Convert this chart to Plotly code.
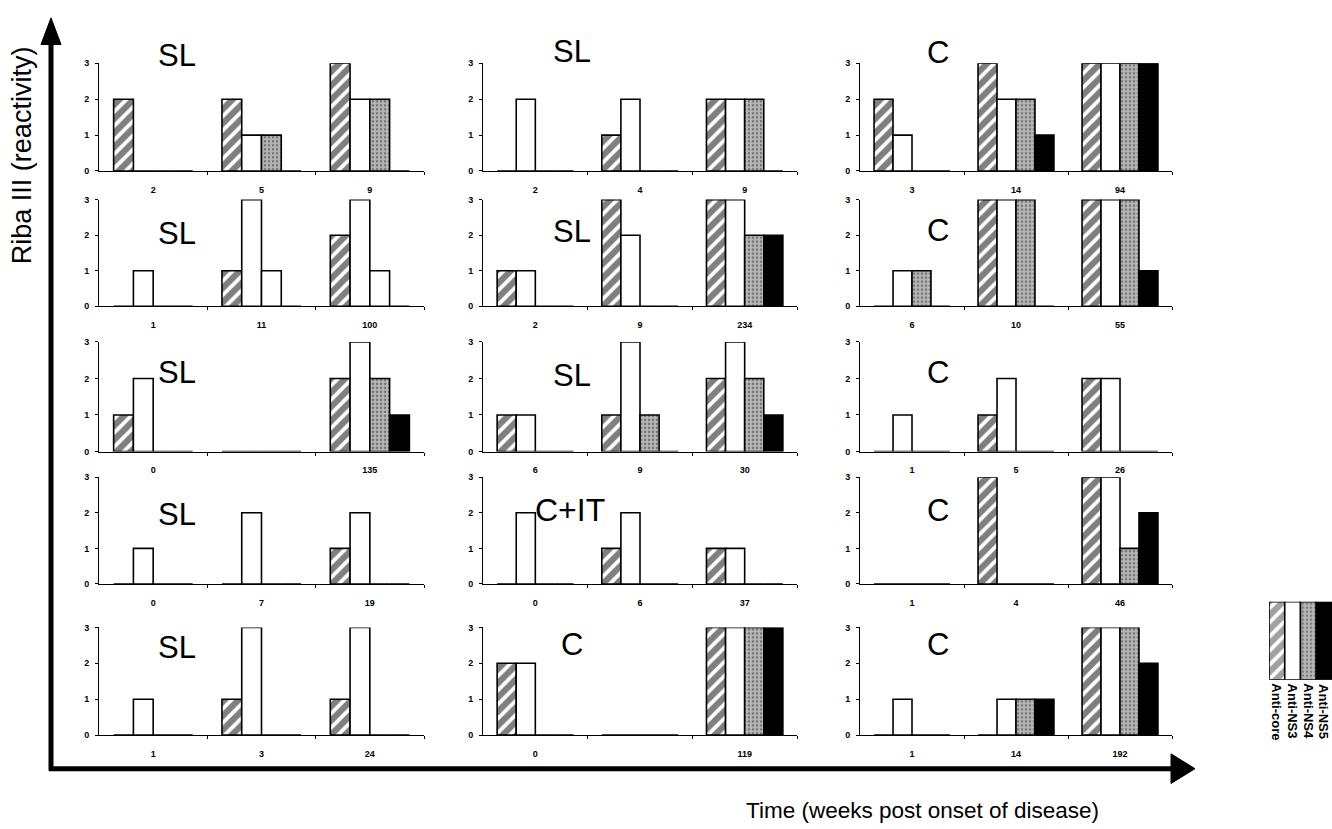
import plotly.graph_objects as go

# ---------------- data ----------------
series_names = ["Anti-core", "Anti-NS3", "Anti-NS4", "Anti-NS5"]

panel_groups = ["SL", "SL", "C",
                "SL", "SL", "C",
                "SL", "SL", "C",
                "SL", "C+IT", "C",
                "SL", "C", "C"]

time_labels = [
    ["2", "5", "9"], ["2", "4", "9"], ["3", "14", "94"],
    ["1", "11", "100"], ["2", "9", "234"], ["6", "10", "55"],
    ["0", "", "135"], ["6", "9", "30"], ["1", "5", "26"],
    ["0", "7", "19"], ["0", "6", "37"], ["1", "4", "46"],
    ["1", "3", "24"], ["0", "", "119"], ["1", "14", "192"],
]

anti_core = [
    [2, 2, 3], [0, 1, 2], [2, 3, 3],
    [0, 1, 2], [1, 3, 3], [0, 3, 3],
    [1, 0, 2], [1, 1, 2], [0, 1, 2],
    [0, 0, 1], [0, 1, 1], [0, 3, 3],
    [0, 1, 1], [2, 0, 3], [0, 0, 3],
]
anti_ns3 = [
    [0, 1, 2], [2, 2, 2], [1, 2, 3],
    [1, 3, 3], [1, 2, 3], [1, 3, 3],
    [2, 0, 3], [1, 3, 3], [1, 2, 2],
    [1, 2, 2], [2, 2, 1], [0, 0, 3],
    [1, 3, 3], [2, 0, 3], [1, 1, 3],
]
anti_ns4 = [
    [0, 1, 2], [0, 0, 2], [0, 2, 3],
    [0, 1, 1], [0, 0, 2], [1, 3, 3],
    [0, 0, 2], [0, 1, 2], [0, 0, 0],
    [0, 0, 0], [0, 0, 0], [0, 0, 1],
    [0, 0, 0], [0, 0, 3], [0, 1, 3],
]
anti_ns5 = [
    [0, 0, 0], [0, 0, 0], [0, 1, 3],
    [0, 0, 0], [0, 0, 2], [0, 0, 1],
    [0, 0, 1], [0, 0, 1], [0, 0, 0],
    [0, 0, 0], [0, 0, 0], [0, 0, 2],
    [0, 0, 0], [0, 0, 3], [0, 1, 2],
]
series_values = [anti_core, anti_ns3, anti_ns4, anti_ns5]

y_ticks = [0, 1, 2, 3]

# ---------------- styles / layout ----------------
W, H = 1332, 829
FONT = "Liberation Sans, Arial, sans-serif"

col_px = [(99, 424), (483, 797), (860, 1172)]
row_px = [(59, 168), (197, 305), (341, 452), (478, 586), (630, 739)]

label_x = [177, 572, 938]
label_y = [[51, 47, 48], [231, 229, 228], [372, 375, 372], [516, 511, 512], [650, 647, 647]]
label_dx = {"C+IT": -2}

HATCH = dict(shape="/", fgcolor="black", bgcolor="white", size=10, solidity=0.62)
STIPPLE = dict(shape=".", fgcolor="#2e2e2e", bgcolor="#b8b8b8", size=4, solidity=0.35)
styles = [
    dict(color="white", pattern=HATCH),
    dict(color="white"),
    dict(color="#b8b8b8", pattern=STIPPLE),
    dict(color="black"),
]
plain_white = dict(color="white")
# panel where the NS4 bars print without shading in the source
unshaded_ns4_panels = [3]

def fx(x):
    return x / W

def fy(y):
    return 1 - y / H

fig = go.Figure()
layout_axes = {}
annotations = []

for i in range(15):
    r, c = divmod(i, 3)
    k = i + 1
    xs = "" if k == 1 else str(k)
    for s, name in enumerate(series_names):
        st = styles[s]
        if s == 2 and i in unshaded_ns4_panels:
            st = plain_white
        fig.add_trace(go.Bar(
            x=[0, 1, 2], y=series_values[s][i], name=name,
            xaxis="x" + xs, yaxis="y" + xs, showlegend=False,
            marker=dict(**st, line=dict(color="black", width=1.6)),
            hoverinfo="skip",
        ))
    x0, x1 = col_px[c]
    yt, yb = row_px[r]
    layout_axes["xaxis" + xs] = dict(
        domain=[fx(x0), fx(x1)], anchor="y" + xs, range=[-0.5, 2.5],
        tickmode="array", tickvals=[0, 1, 2], ticktext=time_labels[i],
        ticks="", showline=True, linecolor="black", linewidth=1,
        showgrid=False, zeroline=False, ticklabelstandoff=10,
        tickfont=dict(family=FONT, size=9, color="black", weight="bold"),
        minor=dict(tickmode="array", tickvals=[0.5, 1.5, 2.5], ticks="outside",
                   ticklen=3, tickwidth=1, tickcolor="black", showgrid=False),
        fixedrange=True,
    )
    layout_axes["yaxis" + xs] = dict(
        domain=[fy(yb), fy(yt)], anchor="x" + xs, range=[0, 3],
        tickmode="array", tickvals=y_ticks, ticks="outside", ticklen=3,
        tickwidth=1, tickcolor="black", showline=True, linecolor="black",
        linewidth=1, showgrid=False, zeroline=False, ticklabelstandoff=4,
        tickfont=dict(family=FONT, size=9, color="black", weight="bold"),
        fixedrange=True,
    )
    g = panel_groups[i]
    annotations.append(dict(
        text=g, xref="paper", yref="paper",
        x=fx(label_x[c] + label_dx.get(g, 0)), y=fy(label_y[r][c]),
        xanchor="center", yanchor="middle", showarrow=False,
        font=dict(family=FONT, size=31 if g != "C+IT" else 32, color="black"),
    ))

# legend drawn as a tiny bar subplot
lk = "16"
fig.add_trace(go.Bar(
    x=[0, 1, 2, 3], y=[1, 1, 1, 1], width=1,
    xaxis="x" + lk, yaxis="y" + lk, showlegend=False, hoverinfo="skip",
    marker=dict(
        color=["white", "white", "#b8b8b8", "black"],
        pattern=dict(shape=["/", "", ".", ""],
                     fgcolor=["black", "white", "#2e2e2e", "black"],
                     bgcolor=["white", "white", "#b8b8b8", "black"],
                     size=[10, 8, 4, 8], solidity=[0.62, 0.1, 0.35, 0.1]),
        line=dict(color="black", width=1.6)),
))
layout_axes["xaxis" + lk] = dict(domain=[fx(1269), fx(1332)], anchor="y" + lk,
                                 range=[-0.5, 3.5], visible=False, fixedrange=True)
layout_axes["yaxis" + lk] = dict(domain=[fy(683), fy(604)], anchor="x" + lk,
                                 range=[0, 1], visible=False, fixedrange=True)
for j, name in enumerate(series_names):
    annotations.append(dict(
        text=name, xref="x" + lk, yref="paper", x=j, y=fy(685),
        xanchor="center", yanchor="top", textangle=90, showarrow=False,
        font=dict(family=FONT, size=13, color="black", weight="bold"),
    ))

# axis titles
annotations.append(dict(
    text="Riba III (reactivity)", xref="paper", yref="paper",
    x=fx(22), y=fy(152), textangle=-90, showarrow=False,
    xanchor="center", yanchor="middle",
    font=dict(family=FONT, size=27, color="black"),
))
annotations.append(dict(
    text="Time (weeks post onset of disease)", xref="paper", yref="paper",
    x=fx(922), y=fy(815), showarrow=False, xanchor="center", yanchor="middle",
    font=dict(family=FONT, size=22.5, color="black"),
))

# big arrows
def path(pts):
    return "M " + " L ".join(f"{fx(a)},{fy(b)}" for a, b in pts) + " Z"

shapes = [
    dict(type="line", xref="paper", yref="paper", x0=fx(49), y0=fy(773), x1=fx(1176), y1=fy(773),
         line=dict(color="black", width=5)),
    dict(type="line", xref="paper", yref="paper", x0=fx(51), y0=fy(775), x1=fx(51), y1=fy(36),
         line=dict(color="black", width=5)),
    dict(type="path", xref="paper", yref="paper", path=path([(1171, 758), (1195, 773), (1171, 788)]),
         fillcolor="black", line=dict(color="black", width=1)),
    dict(type="path", xref="paper", yref="paper", path=path([(41, 40), (51, 13), (61, 40)]),
         fillcolor="black", line=dict(color="black", width=1)),
]

fig.update_layout(
    width=W, height=H, margin=dict(l=0, r=0, t=0, b=0),
    paper_bgcolor="white", plot_bgcolor="white",
    barmode="group", bargap=0.27, bargroupgap=0,
    font=dict(family=FONT, color="black"),
    annotations=annotations, shapes=shapes, showlegend=False,
    **layout_axes,
)

fig.write_html("out.html")
